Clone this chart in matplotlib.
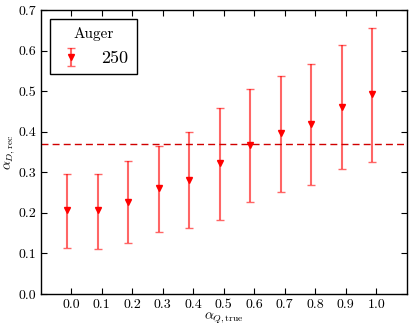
import numpy as np
import matplotlib
matplotlib.use('Agg')
import matplotlib.pyplot as plt

# alpha_Q,true vs reconstructed alpha_D
alpha_true = [0.0, 0.1, 0.2, 0.3, 0.4, 0.5, 0.6, 0.7, 0.8, 0.9, 1.0]
alpha_rec = [0.207, 0.206, 0.227, 0.261, 0.282, 0.322, 0.367, 0.396, 0.419, 0.462, 0.493]
err_low = [0.114, 0.110, 0.125, 0.152, 0.162, 0.182, 0.226, 0.251, 0.268, 0.307, 0.326]
err_high = [0.296, 0.297, 0.328, 0.366, 0.399, 0.458, 0.505, 0.537, 0.567, 0.614, 0.657]
reference_level = 0.371
x_offset = -0.013

plt.rcParams['font.family'] = 'serif'
plt.rcParams['font.serif'] = ['cmr10']
plt.rcParams['mathtext.fontset'] = 'cm'
plt.rcParams['axes.formatter.use_mathtext'] = True
plt.rcParams['xtick.direction'] = 'in'
plt.rcParams['ytick.direction'] = 'in'
plt.rcParams['xtick.top'] = True
plt.rcParams['ytick.right'] = True

fig = plt.figure(figsize=(4.13, 3.27), dpi=100)
ax = fig.add_axes([0.099, 0.101, 0.886, 0.868])

x = np.array(alpha_true) + x_offset
y = np.array(alpha_rec)
yerr = [y - np.array(err_low), np.array(err_high) - y]

eb = ax.errorbar(x, y, yerr=yerr, fmt='v', color='red', ms=5,
                 ecolor=(1, 0, 0, 0.6), elinewidth=1.5, capsize=3, capthick=1,
                 label='250')
ax.axhline(reference_level, color='#d00000', linestyle='--', linewidth=1, dashes=(5, 3))

ax.set_xlim(-0.1, 1.1)
ax.set_ylim(0.0, 0.7)
ax.set_xticks(alpha_true)
ax.set_xticklabels([f'{v:.1f}' for v in alpha_true])
ax.set_yticks(np.arange(0, 0.71, 0.1))
ax.set_yticklabels([f'{v:.1f}' for v in np.arange(0, 0.71, 0.1)])
ax.tick_params(labelsize=10, length=4, width=0.8)
for s in ax.spines.values():
    s.set_linewidth(1)

ax.set_xlabel(r'$\alpha_{Q,\mathrm{true}}$', fontsize=10, labelpad=0)
ax.set_ylabel(r'$\alpha_{D,\mathrm{rec}}$', fontsize=10, labelpad=1)

leg = ax.legend(loc='upper left', title='Auger', fontsize=13, title_fontsize=11,
                fancybox=False, framealpha=1, edgecolor='black',
                borderpad=0.45, handlelength=1.4, handletextpad=1.0,
                borderaxespad=0.5)
leg.get_frame().set_linewidth(1)

fig.savefig('out.png', dpi=100)
